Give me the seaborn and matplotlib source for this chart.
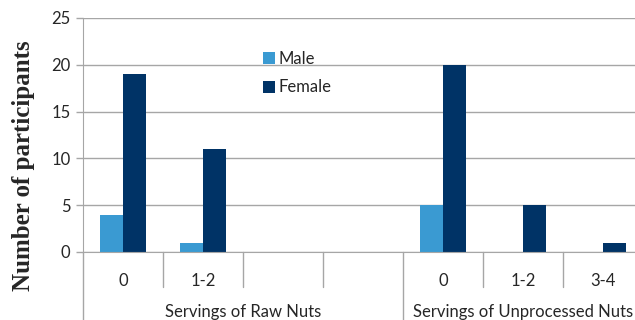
import pandas as pd
import matplotlib
matplotlib.use("Agg")
import matplotlib.pyplot as plt
import matplotlib.transforms as mtransforms
import seaborn as sns

# Data
groups = ["Servings of Raw Nuts", "Servings of Unprocessed Nuts"]
slot_labels = ["0", "1-2", "", "", "0", "1-2", "3-4"]
slot_group = [0, 0, 0, 0, 1, 1, 1]
male = [4, 1, 0, 0, 5, 0, 0]
female = [19, 11, 0, 0, 20, 5, 1]
yticks = [0, 5, 10, 15, 20, 25]

slots = [f"s{i}" for i in range(len(slot_labels))]
df = pd.DataFrame({
    "slot": slots * 2,
    "sex": ["Male"] * len(slots) + ["Female"] * len(slots),
    "count": male + female,
})

sns.set_style("white")
plt.rcParams["font.family"] = ["Lato", "DejaVu Sans"]
grey = "#a6a6a6"
txt = "#262626"
palette = {"Male": "#3a9ad2", "Female": "#003366"}

fig = plt.figure(figsize=(6.35, 3.2), dpi=100)
ax = fig.add_axes([83 / 635, 68 / 320, 560 / 635, 234 / 320])
ax.set_axisbelow(True)

sns.barplot(data=df, x="slot", y="count", hue="sex", order=slots,
            palette=palette, width=0.575, saturation=1, linewidth=0, ax=ax)
for p in ax.patches:
    p.set_zorder(3)

ax.set_xlim(-0.5, len(slots) - 0.5)
ax.set_ylim(0, 25)
ax.set_yticks(yticks)
ax.set_yticklabels([str(t) for t in yticks], fontsize=12, color=txt)
ax.yaxis.grid(True, color=grey, linewidth=1, zorder=0)
ax.tick_params(axis="y", length=5, width=1, color=grey, pad=4, left=True)
for s in ["top", "right"]:
    ax.spines[s].set_visible(False)
ax.spines["left"].set_color(grey)
ax.spines["bottom"].set_color(grey)
ax.spines["bottom"].set_zorder(4)

ax.set_xticks(range(len(slots)))
ax.set_xticklabels(slot_labels, fontsize=12, color=txt)
ax.tick_params(axis="x", length=0, pad=15)
ax.set_xlabel("")
ax.set_ylabel("")

# category dividers below the axis
trans = mtransforms.blended_transform_factory(ax.transData, ax.transAxes)
ax.plot([-0.5, -0.5], [0, -0.29], transform=trans, color=grey, lw=1, clip_on=False)
for i in range(1, len(slots)):
    if slot_group[i] != slot_group[i - 1]:
        low = -0.29
    else:
        low = -0.15
    ax.plot([i - 0.5, i - 0.5], [0, low], transform=trans, color=grey, lw=1, clip_on=False)

for g, name in enumerate(groups):
    idx = [i for i, sg in enumerate(slot_group) if sg == g]
    center = (idx[0] + idx[-1]) / 2
    ax.text(center, -0.255, name, transform=trans, ha="center", va="center",
            fontsize=12, color=txt)

fig.text(24 / 635, 1 - 166 / 320, "Number of participants", rotation=90,
         ha="center", va="center", fontsize=18, fontweight="bold",
         family="Liberation Serif")

leg = ax.legend(loc="upper left", bbox_to_anchor=(248 / 635, 1 - 36 / 320),
                bbox_transform=fig.transFigure, frameon=False, fontsize=12,
                handlelength=0.7, handleheight=0.7, handletextpad=0.25,
                labelspacing=0.75)
for t in leg.get_texts():
    t.set_color(txt)

fig.savefig("out.png", dpi=100)
